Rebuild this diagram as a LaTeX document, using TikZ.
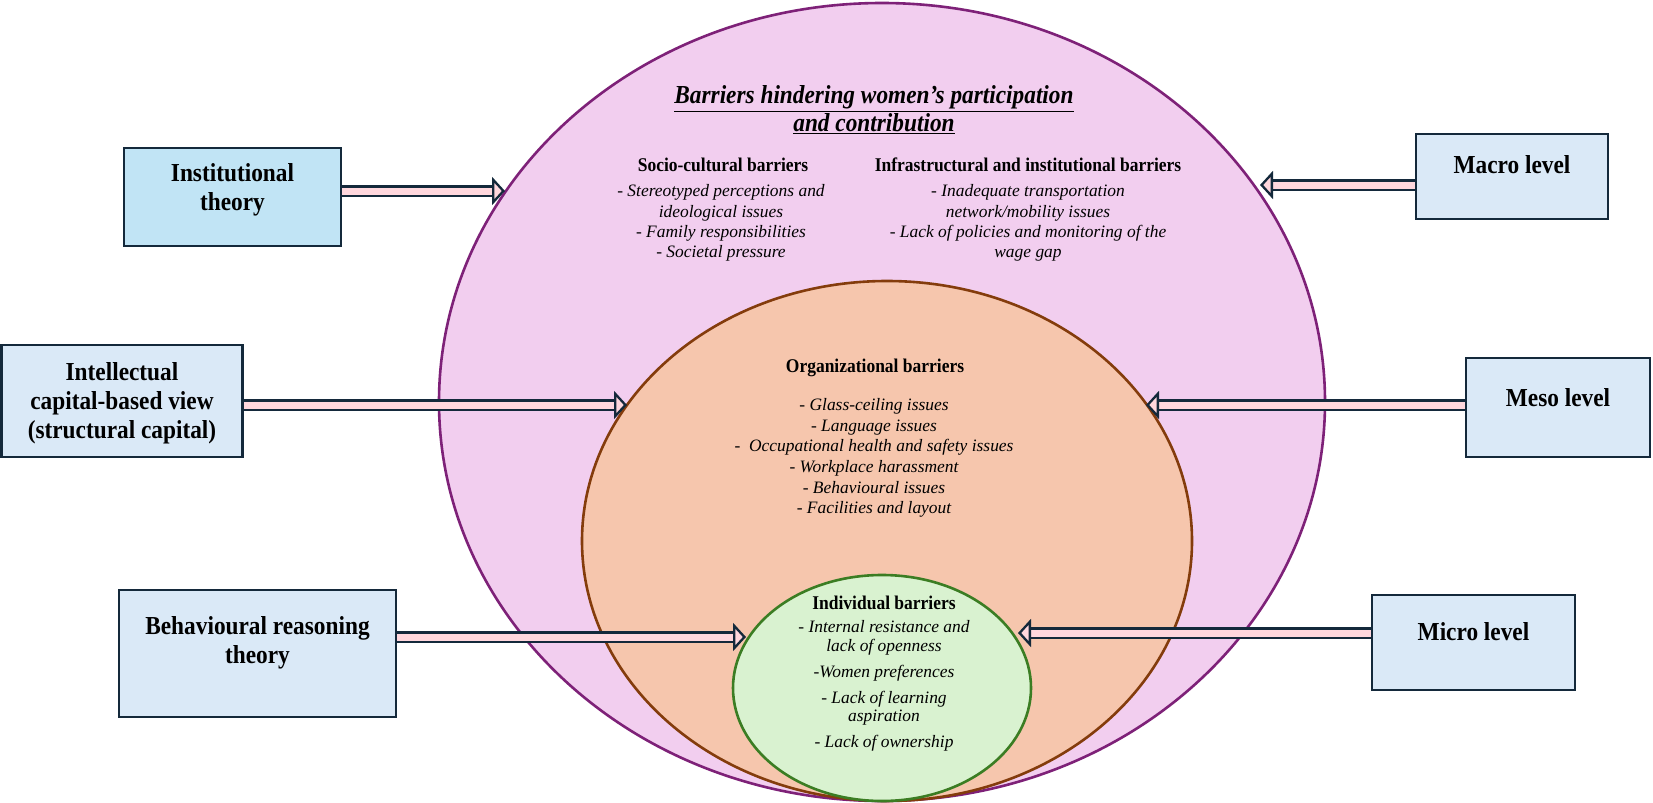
\documentclass[tikz,border=0pt]{standalone}
\usepackage{fontspec}
\setmainfont{Liberation Serif}
\newfontfamily\condfont{Liberation Serif}[FakeStretch=0.9]
\usetikzlibrary{arrows.meta}
\definecolor{outerfill}{HTML}{F2CEEF}
\definecolor{outerline}{HTML}{7E2178}
\definecolor{orgfill}{HTML}{F6C6AD}
\definecolor{orgline}{HTML}{843C0C}
\definecolor{indfill}{HTML}{D9F2D0}
\definecolor{indline}{HTML}{3B7D23}
\definecolor{instfill}{HTML}{C1E4F5}
\definecolor{lvlfill}{HTML}{DAE9F7}
\definecolor{boxline}{HTML}{14293B}
\definecolor{arrowfill}{HTML}{FFD7DD}

\begin{document}
\begin{tikzpicture}[x=1bp,y=-1bp,
  lvlbox/.style={draw=boxline, line width=2.6bp, fill=lvlfill, inner sep=0pt},
  boxtext/.style={font=\condfont\bfseries\fontsize{26}{29}\selectfont, align=center, inner sep=0pt},
  head/.style={font=\condfont\bfseries\fontsize{19.5}{22}\selectfont, align=center, inner sep=0pt},
  items/.style={font=\itshape\fontsize{17.5}{20.3}\selectfont, align=center, inner sep=0pt},
  dblarrow/.style={draw=boxline, line width=2.3bp, double=arrowfill, double distance=7bp,
    -{Triangle[open, length=13bp, width=28bp, fill=arrowfill, line width=2.3bp]}}]
\path[use as bounding box, fill=white] (0,0) rectangle (1653,803);

\filldraw[fill=outerfill, draw=outerline, line width=2.6bp] (882,402) ellipse [x radius=443, y radius=399];
\filldraw[fill=orgfill, draw=orgline, line width=2.6bp] (887,541) ellipse [x radius=305, y radius=260];
\filldraw[fill=indfill, draw=indline, line width=2.6bp] (882,688) ellipse [x radius=149, y radius=113];

\node[lvlbox, fill=instfill, minimum width=217bp, minimum height=98bp] (inst) at (232.5,197) {};
\node[lvlbox, minimum width=241bp, minimum height=112bp] (intel) at (122,401) {};
\node[lvlbox, minimum width=277bp, minimum height=127bp] (behav) at (257.5,653.5) {};
\node[lvlbox, minimum width=192bp, minimum height=85bp] (macro) at (1512,176.5) {};
\node[lvlbox, minimum width=184bp, minimum height=99bp] (meso) at (1558,407.5) {};
\node[lvlbox, minimum width=203bp, minimum height=95bp] (micro) at (1473.5,642.5) {};

\coordinate (instTip) at (505,191);
\coordinate (intelTip) at (627,405);
\coordinate (behavTip) at (746,637);
\coordinate (macroTip) at (1260,185);
\coordinate (mesoTip) at (1146,405);
\coordinate (microTip) at (1018,633);
\draw[dblarrow] (inst.east |- instTip) -- (instTip);
\draw[dblarrow] (intel.east |- intelTip) -- (intelTip);
\draw[dblarrow] (behav.east |- behavTip) -- (behavTip);
\draw[dblarrow] (macro.west |- macroTip) -- (macroTip);
\draw[dblarrow] (meso.west |- mesoTip) -- (mesoTip);
\draw[dblarrow] (micro.west |- microTip) -- (microTip);

\node[boxtext] (instLbl) at (232.5,190) {Institutional\\theory};
\node[boxtext] (intelLbl) at (122,403) {Intellectual\\capital-based view\\(structural capital)};
\node[boxtext] (behavLbl) at (257.5,643) {Behavioural reasoning\\theory};
\node[boxtext] (macroLbl) at (1512,165) {Macro level};
\node[boxtext] (mesoLbl) at (1558,398) {Meso level};
\node[boxtext] (microLbl) at (1473.5,632) {Micro level};

\node[font=\condfont\bfseries\itshape\fontsize{26}{28}\selectfont, align=center, inner sep=0pt] (title) at (874,110)
  {\underline{Barriers hindering women’s participation}\\\underline{and contribution}};
\node[head] (socHead) at (723,165) {Socio-cultural barriers};
\node[items] (socItems) at (721,223) {- Stereotyped perceptions and\\ideological issues\\- Family responsibilities\\- Societal pressure};
\node[head] (infHead) at (1028,165) {Infrastructural and institutional barriers};
\node[items] (infItems) at (1028,223) {- Inadequate transportation\\network/mobility issues\\- Lack of policies and monitoring of the\\wage gap};
\node[head] (orgHead) at (875,368) {Organizational barriers};
\node[items, font=\itshape\fontsize{17.5}{20.7}\selectfont] (orgItems) at (874,458) {- Glass-ceiling issues\\- Language issues\\-\ \ Occupational health and safety issues\\- Workplace harassment\\- Behavioural issues\\- Facilities and layout};
\node[head] (indHead) at (884,603) {Individual barriers};
\node[items, font=\itshape\fontsize{17.5}{18.5}\selectfont] (indItems) at (884,686) {- Internal resistance and\\lack of openness\\[7.5bp]-Women preferences\\[7.5bp]- Lack of learning\\aspiration\\[7.5bp]- Lack of ownership};
\end{tikzpicture}
\end{document}
